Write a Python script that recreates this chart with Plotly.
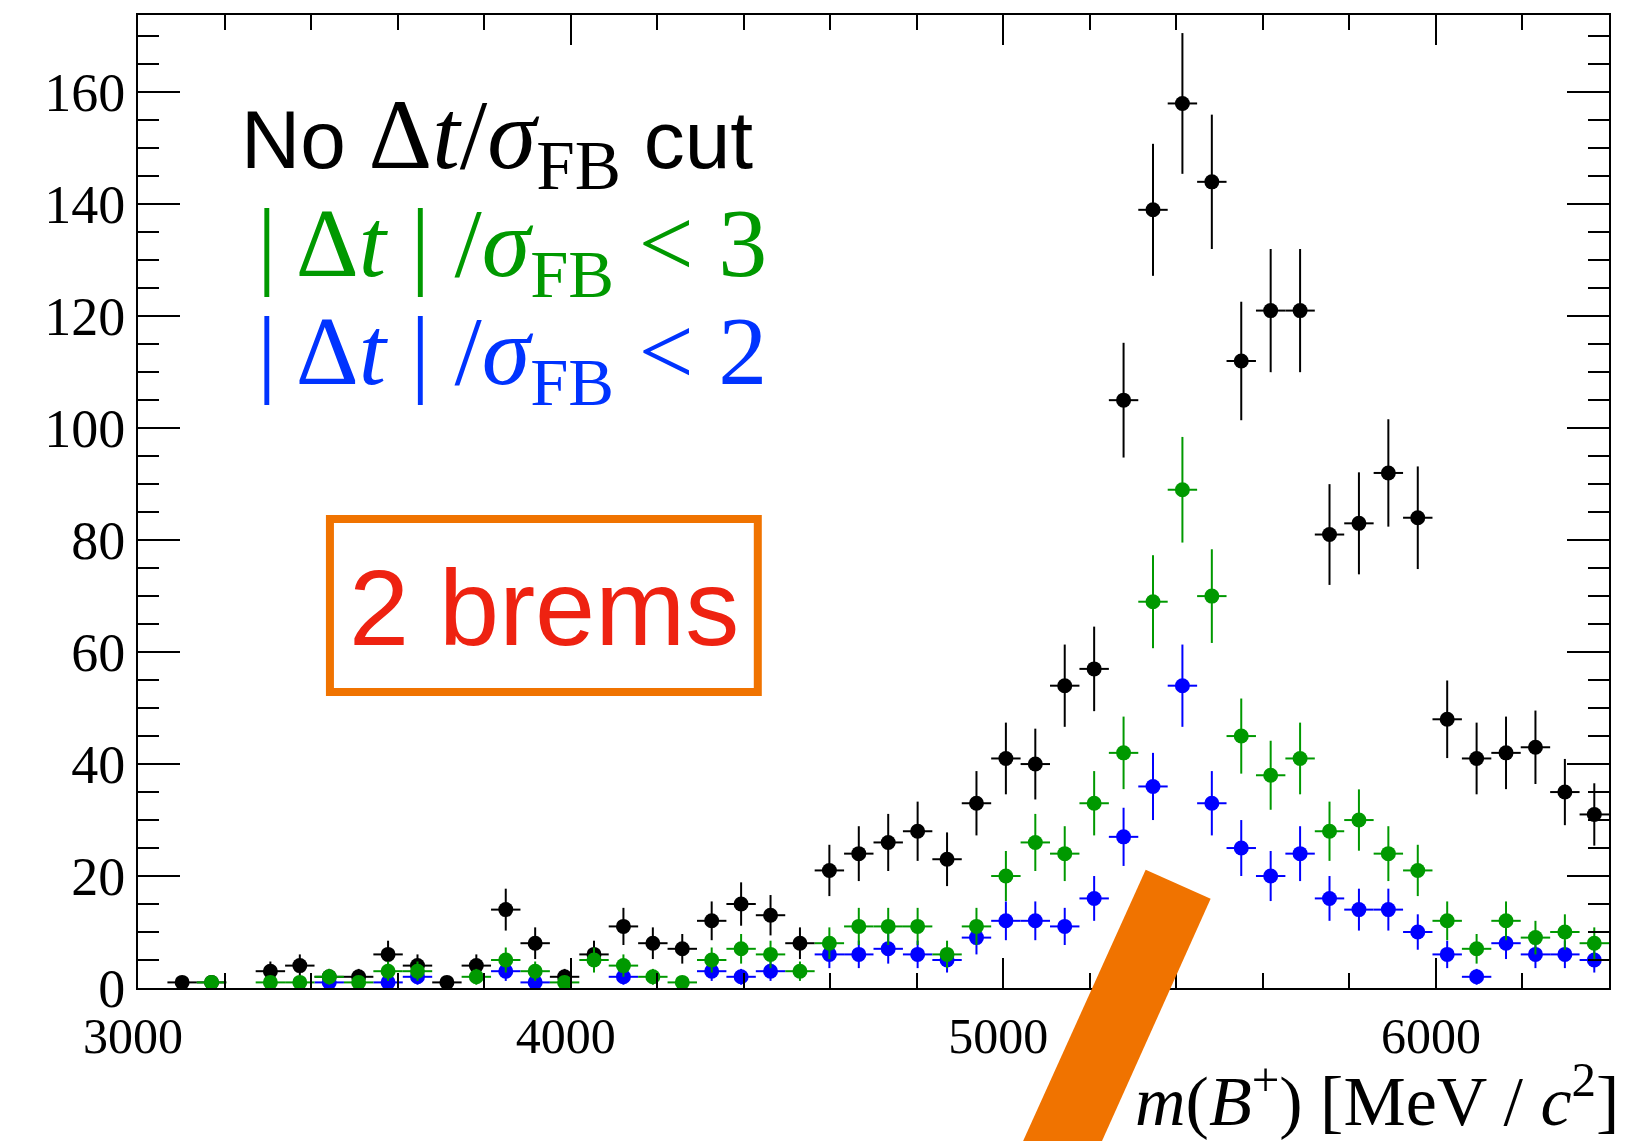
import numpy as np
import plotly.graph_objects as go

# ---- histogram definition: m(B+) in 50 bins from 3000 to 6400 MeV/c^2 ----
X_MIN, X_MAX, N_BINS = 3000.0, 6400.0, 50
Y_MAX = 173.8

# Candidates per bin, no Delta t / sigma_FB requirement
counts_no_cut = [0, 1, 1, 0, 3, 4, 2, 2, 6, 4,
                 1, 4, 14, 8, 2, 6, 11, 8, 7, 12,
                 15, 13, 8, 21, 24, 26, 28, 23, 33, 41,
                 40, 54, 57, 105, 139, 158, 144, 112, 121, 121,
                 81, 83, 92, 84, 48, 41, 42, 43, 35, 31]
# Candidates per bin with |Delta t| / sigma_FB < 3
counts_dt_lt3 = [0, 0, 1, 0, 1, 1, 2, 1, 3, 3,
                 0, 2, 5, 3, 1, 5, 4, 2, 1, 5,
                 7, 6, 3, 8, 11, 11, 11, 6, 11, 20,
                 26, 24, 33, 42, 69, 89, 70, 45, 38, 41,
                 28, 30, 24, 21, 12, 7, 12, 9, 10, 8]
# Candidates per bin with |Delta t| / sigma_FB < 2
counts_dt_lt2 = [0, 0, 0, 0, 0, 0, 1, 0, 1, 2,
                 0, 0, 3, 1, 0, 0, 2, 0, 0, 3,
                 2, 3, 0, 6, 6, 7, 6, 5, 9, 12,
                 12, 11, 16, 27, 36, 54, 33, 25, 20, 24,
                 16, 14, 14, 10, 6, 2, 8, 6, 6, 5]

x_ticks_major = [3000, 4000, 5000, 6000]
y_ticks_major = [0, 20, 40, 60, 80, 100, 120, 140, 160]

BLACK = "#000000"
GREEN = "#009900"
BLUE = "#0000ff"
BLUE_TEXT = "#0033ff"
ORANGE = "#f07300"
RED = "#ee2211"
SERIF = "Liberation Serif"
SANS = "Liberation Sans"

bin_width = (X_MAX - X_MIN) / N_BINS
bin_centers = X_MIN + bin_width * (np.arange(N_BINS) + 0.5)

# ---- canvas geometry ----
W, H = 1641, 1141
ML, MR, MT, MB = 138, 31.5, 14.7, 152.7
PW = W - ML - MR
PH = H - MT - MB


def paper(xp, yp):
    """Convert page pixel position to paper coordinates."""
    return (xp - ML) / PW, (H - MB - yp) / PH


def hist_points(counts, color):
    c = np.asarray(counts, dtype=float)
    filled = c > 0
    n = int(filled.sum())
    return go.Scatter(
        x=bin_centers[filled], y=c[filled], mode="markers",
        marker=dict(color=color, size=15, line=dict(width=0)),
        error_y=dict(type="data", array=np.sqrt(c[filled]), color=color,
                     thickness=2, width=0),
        error_x=dict(type="data", array=np.full(n, bin_width / 2), color=color,
                     thickness=2, width=0),
        showlegend=False, hoverinfo="x+y",
    )


fig = go.Figure()
fig.add_trace(hist_points(counts_no_cut, BLACK))
fig.add_trace(hist_points(counts_dt_lt2, BLUE))
fig.add_trace(hist_points(counts_dt_lt3, GREEN))

axis_common = dict(
    showline=True, linecolor="black", linewidth=2, mirror="allticks",
    ticks="inside", tickwidth=2, tickcolor="black",
    showgrid=False, zeroline=False, automargin=False,
)

fig.update_xaxes(
    range=[X_MIN, X_MAX], tickvals=x_ticks_major,
    ticktext=[str(v) for v in x_ticks_major], ticklen=30,
    minor=dict(ticks="inside", ticklen=15, tickwidth=2, tickcolor="black",
               dtick=200, tick0=3000, showgrid=False),
    tickfont=dict(family=SERIF, size=50, color="black"),
    ticklabelstandoff=3, ticklabelshift=-5,
    **axis_common,
)
fig.update_yaxes(
    range=[0, Y_MAX], tickvals=y_ticks_major,
    ticktext=[str(v) for v in y_ticks_major], ticklen=42,
    minor=dict(ticks="inside", ticklen=21, tickwidth=2, tickcolor="black",
               dtick=5, tick0=0, showgrid=False),
    tickfont=dict(family=SERIF, size=54, color="black"),
    ticklabelstandoff=0,
    **axis_common,
)

annotations = []


def label(xp, yp, text, size, color, family, xanchor="left"):
    xa, ya = paper(xp, yp)
    annotations.append(dict(
        x=xa, y=ya, xref="paper", yref="paper", xanchor=xanchor,
        yanchor="middle", text=text, showarrow=False,
        font=dict(family=family, size=size, color=color),
    ))


serif_span = '<span style="font-family:Liberation Serif;font-size:99px">'
label(239, 142,
      'No ' + serif_span + 'Δ<i>t</i>/<i>σ</i><sub>FB</sub></span> cut',
      82, BLACK, SANS)
label(255, 250, '| Δ<i>t</i> | /<i>σ</i><sub>FB</sub> &lt; 3',
      98, GREEN, SERIF)
label(255, 358, '| Δ<i>t</i> | /<i>σ</i><sub>FB</sub> &lt; 2',
      98, BLUE_TEXT, SERIF)
label(544, 608, '2 brems', 108, RED, SANS, xanchor="center")
label(1622, 1096,
      '<i>m</i>(<i>B</i><sup>+</sup>) [MeV / <i>c</i><sup>2</sup>]',
      70, BLACK, SERIF, xanchor="right")

shapes = []
# frame around the category tag
bx0, by0 = paper(330, 692)
bx1, by1 = paper(758, 519)
shapes.append(dict(type="rect", xref="paper", yref="paper",
                   x0=bx0, y0=by0, x1=bx1, y1=by1,
                   line=dict(color=ORANGE, width=8), fillcolor="rgba(0,0,0,0)",
                   layer="above"))
# thick pointer towards the signal peak
corners = [(1146, 870), (1211, 899), (1094, 1160), (1015, 1160)]
pts = [paper(xp, yp) for xp, yp in corners]
path = "M " + " L ".join(f"{a:.5f},{b:.5f}" for a, b in pts) + " Z"
shapes.append(dict(type="path", xref="paper", yref="paper", path=path,
                   fillcolor=ORANGE, line=dict(width=0), layer="above"))

fig.update_layout(
    template="none",
    width=W, height=H,
    margin=dict(l=ML, r=MR, t=MT, b=MB, pad=0),
    plot_bgcolor="white", paper_bgcolor="white",
    showlegend=False,
    annotations=annotations, shapes=shapes,
)

fig.write_html("out.html")
